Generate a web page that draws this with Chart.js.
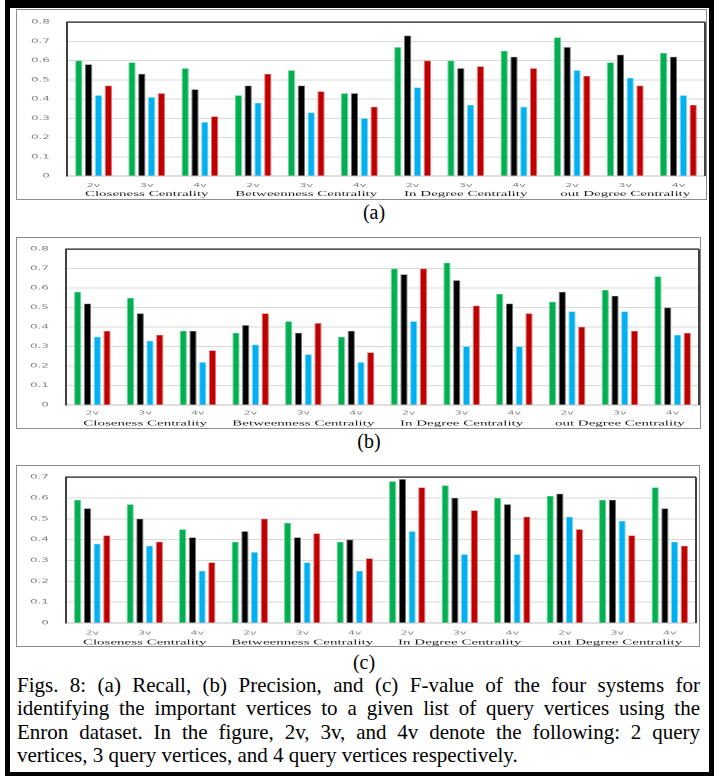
<!DOCTYPE html>
<html>
<head>
<meta charset="utf-8">
<script src="https://cdn.jsdelivr.net/npm/chart.js@4.4.1/dist/chart.umd.min.js"></script>
<style>
  html, body { margin: 0; padding: 0; background: #fff; }
  body { width: 718px; height: 776px; position: relative; overflow: hidden; }
  #outer { position: absolute; left: 5px; top: 0; width: 709px; height: 776px; box-sizing: border-box;
           border-style: solid; border-color: #000; border-width: 8px 5px 4px 5px; z-index: 5; }
  .frame { position: absolute; border: 1px solid #8c8c8c; box-sizing: border-box; }
  .holder { position: absolute; transform: scaleY(0.5); transform-origin: 0 0; }
  .sub { position: absolute; width: 60px; text-align: center; font-family: "Liberation Serif", serif;
         font-size: 20px; line-height: 20px; color: #000; }
  #caption { position: absolute; left: 17px; top: 674px; width: 683px; color: #000;
             font-family: "Liberation Serif", serif; font-size: 21px; line-height: 23.3px; }
  #caption div { text-align: justify; text-align-last: justify; }
  #caption div.last { text-align-last: left; }
</style>
</head>
<body>

<div class="frame" style="left:16px; top:9px; width:691px; height:191px;"></div>
<div class="holder" style="left:16px; top:10px;"><canvas id="recall" width="690" height="378"></canvas></div>
<div class="sub" style="left:344px; top:202px;">(a)</div>

<div class="frame" style="left:16px; top:237px; width:685px; height:192px;"></div>
<div class="holder" style="left:16px; top:237px;"><canvas id="precision" width="685" height="382"></canvas></div>
<div class="sub" style="left:339px; top:431px;">(b)</div>

<div class="frame" style="left:16px; top:465px; width:684px; height:182px;"></div>
<div class="holder" style="left:16px; top:465px;"><canvas id="fvalue" width="684" height="362"></canvas></div>
<div class="sub" style="left:334px; top:652px;">(c)</div>

<div id="caption">
  <div>Figs. 8: (a) Recall, (b) Precision, and (c) F-value of the four systems for</div>
  <div>identifying the important vertices to a given list of query vertices using the</div>
  <div>Enron dataset. In the figure, 2v, 3v, and 4v denote the following: 2 query</div>
  <div class="last">vertices, 3 query vertices, and 4 query vertices respectively.</div>
</div>

<div id="outer"></div>

<script>
const categories = ['2v', '3v', '4v', '2v', '3v', '4v', '2v', '3v', '4v', '2v', '3v', '4v'];
const groups = ['Closeness Centrality', 'Betweenness Centrality', 'In Degree Centrality', 'out Degree Centrality'];
const systems = ['System 1', 'System 2', 'System 3', 'System 4'];

// (a) Recall
const recallGreen = [0.60, 0.59, 0.56, 0.42, 0.55, 0.43, 0.67, 0.60, 0.65, 0.72, 0.59, 0.64];
const recallBlack = [0.58, 0.53, 0.45, 0.47, 0.47, 0.43, 0.73, 0.56, 0.62, 0.67, 0.63, 0.62];
const recallBlue  = [0.42, 0.41, 0.28, 0.38, 0.33, 0.30, 0.46, 0.37, 0.36, 0.55, 0.51, 0.42];
const recallRed   = [0.47, 0.43, 0.31, 0.53, 0.44, 0.36, 0.60, 0.57, 0.56, 0.52, 0.47, 0.37];

// (b) Precision
const precisionGreen = [0.58, 0.55, 0.38, 0.37, 0.43, 0.35, 0.70, 0.73, 0.57, 0.53, 0.59, 0.66];
const precisionBlack = [0.52, 0.47, 0.38, 0.41, 0.37, 0.38, 0.67, 0.64, 0.52, 0.58, 0.56, 0.50];
const precisionBlue  = [0.35, 0.33, 0.22, 0.31, 0.26, 0.22, 0.43, 0.30, 0.30, 0.48, 0.48, 0.36];
const precisionRed   = [0.38, 0.36, 0.28, 0.47, 0.42, 0.27, 0.70, 0.51, 0.47, 0.40, 0.38, 0.37];

// (c) F-value
const fvalueGreen = [0.59, 0.57, 0.45, 0.39, 0.48, 0.39, 0.68, 0.66, 0.60, 0.61, 0.59, 0.65];
const fvalueBlack = [0.55, 0.50, 0.41, 0.44, 0.41, 0.40, 0.69, 0.60, 0.57, 0.62, 0.59, 0.55];
const fvalueBlue  = [0.38, 0.37, 0.25, 0.34, 0.29, 0.25, 0.44, 0.33, 0.33, 0.51, 0.49, 0.39];
const fvalueRed   = [0.42, 0.39, 0.29, 0.50, 0.43, 0.31, 0.65, 0.54, 0.51, 0.45, 0.42, 0.37];

const yTicks08 = ['0', '0.1', '0.2', '0.3', '0.4', '0.5', '0.6', '0.7', '0.8'];
const yTicks07 = ['0', '0.1', '0.2', '0.3', '0.4', '0.5', '0.6', '0.7'];

// dark lines on top and right of the plot area
const plotBox = {
    id: 'plotBox',
    afterDraw(chart){
        const a = chart.chartArea;
        const ctx = chart.ctx;
        ctx.save();
        ctx.strokeStyle = '#404040';
        ctx.lineWidth = 3;
        ctx.beginPath();
        ctx.moveTo(a.left, a.top);
        ctx.lineTo(a.right, a.top);
        ctx.stroke();
        ctx.lineWidth = 2;
        ctx.beginPath();
        ctx.moveTo(a.right, a.top);
        ctx.lineTo(a.right, a.bottom);
        ctx.stroke();
        ctx.restore();
    }
};

function drawChart(id, green, black, blue, red, yTicks, yMax, box){

    new Chart(document.getElementById(id), {
        type: 'bar',
        data: {
            labels: categories,
            datasets: [
                { label: systems[0], data: green, backgroundColor: '#00b050', borderColor: '#6fd39a', xAxisID: 'x' },
                { label: systems[1], data: black, backgroundColor: '#000000', borderColor: '#777777', xAxisID: 'x' },
                { label: systems[2], data: blue,  backgroundColor: '#00b0f0', borderColor: '#7fd6f7', xAxisID: 'x' },
                { label: systems[3], data: red,   backgroundColor: '#c00000', borderColor: '#e07a7a', xAxisID: 'x' }
            ]
        },
        options: {
            responsive: false,
            animation: false,
            events: [],
            layout: { padding: { top: box.top, right: box.right, left: 0, bottom: 0 } },
            datasets: { bar: { categoryPercentage: 0.74, barPercentage: 0.75, borderWidth: 1 } },
            plugins: { legend: { display: false }, tooltip: { enabled: false } },
            scales: {
                x: {
                    grid: { display: false, drawTicks: false },
                    border: { display: true, color: '#bfbfbf', width: 2 },
                    ticks: { padding: box.tickPad, color: '#808080', font: { family: 'DejaVu Sans', size: 11 },
                             maxRotation: 0, autoSkip: false },
                    afterFit: s => { s.height = 26; }
                },
                x2: {
                    type: 'category',
                    labels: groups,
                    position: 'bottom',
                    offset: true,
                    grid: { display: false, drawTicks: false },
                    border: { display: false },
                    ticks: { padding: box.groupPad, color: '#1a1a1a', font: { family: 'Liberation Serif', size: 15 },
                             maxRotation: 0, autoSkip: false },
                    afterFit: s => { s.height = 20; }
                },
                y: {
                    min: 0,
                    max: yMax,
                    ticks: { stepSize: 0.1, padding: box.yPad, color: '#808080',
                             font: { family: 'DejaVu Sans', size: 12 },
                             callback: (v, i) => yTicks[i] },
                    grid: { color: '#d9d9d9', lineWidth: 2, drawTicks: false },
                    border: { color: '#404040', width: 2 },
                    afterFit: s => { s.width = box.yWidth; }
                }
            }
        },
        plugins: [plotBox]
    });
}

drawChart('recall', recallGreen, recallBlack, recallBlue, recallRed, yTicks08, 0.8,
    { top: 8, right: 1, yWidth: 51, yPad: 17, tickPad: 13, groupPad: 1 });

drawChart('precision', precisionGreen, precisionBlack, precisionBlue, precisionRed, yTicks08, 0.8,
    { top: 9, right: 2, yWidth: 50, yPad: 17, tickPad: 10, groupPad: 2 });

drawChart('fvalue', fvalueGreen, fvalueBlack, fvalueBlue, fvalueRed, yTicks07, 0.7,
    { top: 10, right: 4, yWidth: 50, yPad: 17, tickPad: 14, groupPad: 4 });
</script>
</body>
</html>
